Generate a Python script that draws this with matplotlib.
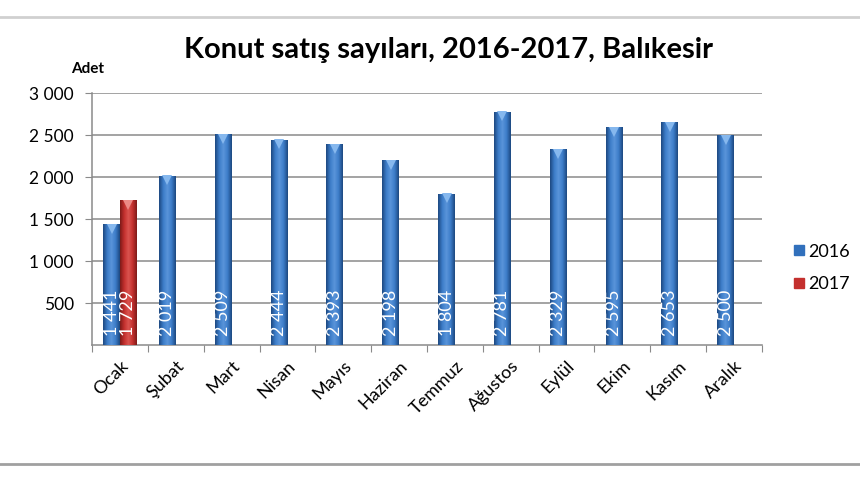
import numpy as np
import matplotlib
matplotlib.use('Agg')
from matplotlib import pyplot as plt
from matplotlib.colors import LinearSegmentedColormap
from matplotlib.lines import Line2D

plt.rcParams['font.family'] = ['Lato', 'DejaVu Sans']

months = ['Ocak', 'Şubat', 'Mart', 'Nisan', 'Mayıs', 'Haziran',
          'Temmuz', 'Ağustos', 'Eylül', 'Ekim', 'Kasım', 'Aralık']
sales_2016 = [1441, 2019, 2509, 2444, 2393, 2198, 1804, 2781, 2329, 2595, 2653, 2500]
sales_2017 = [1729]
series_names = ['2016', '2017']
y_ticks = [500, 1000, 1500, 2000, 2500, 3000]

BLUE = '#3170BC'
RED = '#C4302E'
blue_cmap = LinearSegmentedColormap.from_list('b', ['#1D4880', '#3C7CC8', '#5A95DA', '#3C7CC8', '#1D4880'])
red_cmap = LinearSegmentedColormap.from_list('r', ['#7E1A18', '#C4302E', '#DA5450', '#C4302E', '#7E1A18'])


def fmt(v):
    return f'{v:,}'.replace(',', ' ')


def shade(ax, bars, cmap, top_color):
    # cylinder-like horizontal gradient clipped to each bar, plus a light cap
    grad = np.linspace(0, 1, 64).reshape(1, -1)
    for b in bars:
        x0, y0 = b.get_x(), b.get_y()
        w, h = b.get_width(), b.get_height()
        im = ax.imshow(grad, cmap=cmap, aspect='auto', extent=(x0, x0 + w, y0, y0 + h),
                       zorder=b.get_zorder() + 0.1, interpolation='bilinear')
        im.set_clip_path(b)
        ax.plot(x0 + w / 2, y0 + h - 55, marker='v', markersize=7, color=top_color,
                markeredgewidth=0, zorder=4, clip_on=False)


fig = plt.figure(figsize=(8.6, 4.8), dpi=100)
ax = fig.add_axes([0.107, 0.281, 0.779, 0.525])

x = np.arange(len(months))
w = 0.3
bars16 = ax.bar(x - w / 2, sales_2016, width=w, color=BLUE, zorder=3, linewidth=0)
bars17 = ax.bar(x[:len(sales_2017)] + w / 2, sales_2017, width=w, color=RED, zorder=3, linewidth=0)
shade(ax, bars16, blue_cmap, '#86B8EE')
shade(ax, bars17, red_cmap, '#EC8A86')

for bars, vals in ((bars16, sales_2016), (bars17, sales_2017)):
    for b, v in zip(bars, vals):
        ax.text(b.get_x() + b.get_width() / 2, 110, fmt(v), rotation=90,
                ha='center', va='bottom', color='white', fontsize=13, zorder=5)

ax.set_xlim(-0.5, len(months) - 0.5)
ax.set_ylim(0, 3000)
ax.set_yticks(y_ticks)
ax.set_yticklabels([fmt(t) for t in y_ticks], fontsize=12.5)
ax.yaxis.grid(True, color='#8a8a8a', linewidth=1.1, zorder=0)
ax.set_axisbelow(True)

ax.set_xticks(np.arange(-0.5, len(months)), minor=False)
ax.set_xticklabels([])
ax.set_xticks(x, minor=True)
ax.set_xticklabels(months, minor=True, rotation=45, ha='right',
                   rotation_mode='anchor', fontsize=13)
ax.tick_params(axis='x', which='minor', length=0, pad=9)
ax.tick_params(axis='x', which='major', length=5, color='#8a8a8a', direction='out')
ax.tick_params(axis='y', length=5, color='#8a8a8a', pad=8)

for s in ('top', 'right'):
    ax.spines[s].set_visible(False)
for s in ('left', 'bottom'):
    ax.spines[s].set_color('#8a8a8a')
    ax.spines[s].set_linewidth(1.1)

fig.text(0.521, 0.895, 'Konut satış sayıları, 2016-2017, Balıkesir',
         ha='center', va='center', fontsize=21, fontweight='bold')
fig.text(0.102, 0.856, 'Adet', ha='center', va='center', fontsize=11, fontweight='bold')

handles = [Line2D([], [], marker='s', linestyle='none', markersize=7,
                  markerfacecolor=c, markeredgecolor=c) for c in (BLUE, RED)]
fig.legend(handles, series_names, loc='center left', bbox_to_anchor=(0.924, 0.442),
           frameon=False, fontsize=13, handletextpad=0.25, labelspacing=0.9,
           handlelength=0.5, borderpad=0, borderaxespad=0)

# light border lines of the original picture
fig.add_artist(Line2D([0, 1], [1 - 17 / 480] * 2, color='#d0d0d0', linewidth=2))
fig.add_artist(Line2D([0, 1], [1 - 464 / 480] * 2, color='#a0a0a0', linewidth=2))

fig.savefig('out.png', dpi=100)
